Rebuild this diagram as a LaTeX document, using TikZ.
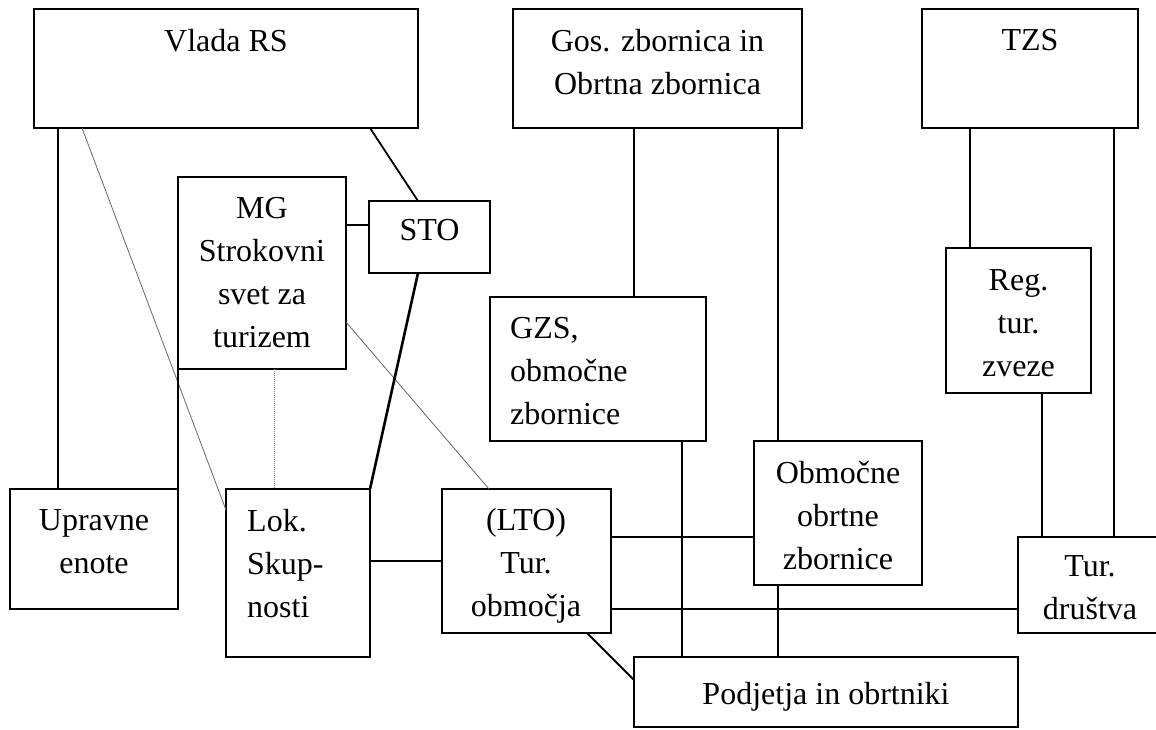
\documentclass[tikz,border=0pt]{standalone}
\usepackage{fontspec}
\setmainfont{Liberation Serif}
\begin{document}
\begin{tikzpicture}[x=1pt,y=-1pt,
  box/.style={draw, line width=2pt, rectangle, inner sep=0pt, outer sep=0pt, anchor=north west},
  txt/.style={inner sep=0pt, anchor=north, align=center, font=\fontsize{32}{43}\selectfont},
  txtl/.style={inner sep=0pt, anchor=north west, align=left, font=\fontsize{32}{43}\selectfont},
  conn/.style={line width=1.8pt},
  heavy/.style={line width=2.6pt},
  faint/.style={line width=0.8pt, gray!80!black},
  faintdot/.style={line width=0.8pt, gray, dash pattern=on 1pt off 1pt}]
\clip (0,0) rectangle (1156,729);
\fill[white] (0,0) rectangle (1156,729);
% boxes
\node[box, minimum width=384, minimum height=119] (vlada) at (34,9) {};
\node[box, minimum width=289, minimum height=119] (gos) at (513,9) {};
\node[box, minimum width=216, minimum height=119] (tzs) at (922,9) {};
\node[box, minimum width=168, minimum height=192] (mg) at (178,177) {};
\node[box, minimum width=121, minimum height=72] (sto) at (369,201) {};
\node[box, minimum width=216, minimum height=144] (gzs) at (490,297) {};
\node[box, minimum width=145, minimum height=145] (reg) at (946,248) {};
\node[box, minimum width=168, minimum height=120] (upr) at (10,489) {};
\node[box, minimum width=144, minimum height=168] (lok) at (226,489) {};
\node[box, minimum width=169, minimum height=144] (lto) at (442,489) {};
\node[box, minimum width=168, minimum height=144] (obm) at (754,441) {};
\node[box, minimum width=144, minimum height=96] (tur) at (1018,537) {};
\node[box, minimum width=384, minimum height=70] (pod) at (634,657) {};
% texts
\node[txt] (vladat) at (226,29.5) {Vlada RS};
\node[txt] (gost) at (657.5,29.5) {Gos. zbornica in\\Obrtna zbornica};
\node[txt] (tzst) at (1030,29.5) {TZS};
\node[txt] (mgt) at (262,197.5) {MG\\Strokovni\\svet za\\turizem};
\node[txt] (stot) at (429.5,219.5) {STO};
\node[txtl] (gzst) at (510,317.5) {GZS,\\območne\\zbornice};
\node[txt] (regt) at (1018.5,269) {Reg.\\tur.\\zveze};
\node[txt] (uprt) at (94,509.5) {Upravne\\enote};
\node[txtl] (lokt) at (247,509.5) {Lok.\\Skup-\\nosti};
\node[txt] (ltot) at (526,508) {(LTO)\\Tur.\\območja};
\node[txt] (obmt) at (838,461.5) {Območne\\obrtne\\zbornice};
\node[txt] (turt) at (1090,555) {Tur.\\društva};
\node[txt] (podt) at (826,682) {Podjetja in obrtniki};
% connectors
\draw[conn] ([xshift=24]vlada.south west) -- ([xshift=48]upr.north west);
\draw[faint] ([xshift=48]vlada.south west) -- ([yshift=-21]lok.north west);
\draw[conn] ([xshift=-48]vlada.south east) -- ([xshift=49]sto.north west);
\draw[conn] ([yshift=-48]mg.north east) -- ([yshift=-24]sto.north west);
\draw[conn] (mg.south west) -- (upr.north east);
\draw[faintdot] ([xshift=96]mg.south west) -- ([xshift=48]lok.north west);
\draw[faint] ([yshift=47]mg.south east) -- ([xshift=47]lto.north west);
\draw[heavy] ([xshift=49]sto.south west) -- (lok.north east);
\draw[conn] ([yshift=-72]lok.north east) -- ([yshift=-72]lto.north west);
\draw[conn] ([xshift=121]gos.south west) -- ([xshift=144]gzs.north west);
\draw[conn] ([xshift=265]gos.south west) -- ([xshift=24]obm.north west);
\draw[conn] ([xshift=-24]gzs.south east) -- ([xshift=48]pod.north west);
\draw[conn] ([xshift=24]obm.south west) -- ([xshift=144]pod.north west);
\draw[conn] ([yshift=-48]lto.north east) -- ([yshift=-96]obm.north west);
\draw[conn] ([yshift=24]lto.south east) -- ([yshift=24]tur.south west);
\draw[conn] ([xshift=-24]lto.south east) -- ([yshift=-23]pod.north west);
\draw[conn] ([xshift=48]tzs.south west) -- ([xshift=24]reg.north west);
\draw[conn] ([xshift=96]reg.south west) -- ([xshift=24]tur.north west);
\draw[conn] ([xshift=192]tzs.south west) -- ([xshift=96]tur.north west);
\end{tikzpicture}
\end{document}
